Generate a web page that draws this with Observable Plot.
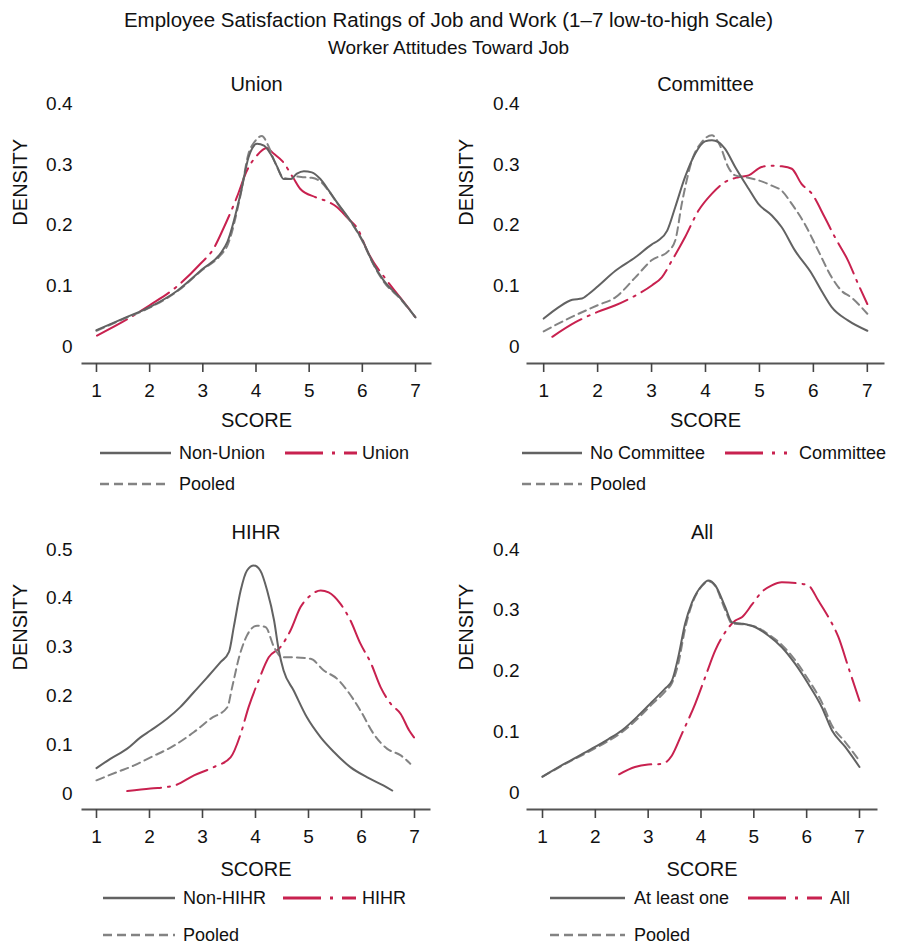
<!DOCTYPE html>
<html>
<head>
<meta charset="utf-8">
<script src="https://cdn.jsdelivr.net/npm/d3@7"></script>
<script src="https://cdn.jsdelivr.net/npm/@observablehq/plot@0.6"></script>
<style>
  body { margin: 0; background: #fff; }
  #root { position: relative; width: 897px; height: 946px; font-family: "Liberation Sans", Arial, Helvetica, sans-serif; color: #111; }
  .abs { position: absolute; white-space: nowrap; }
  .ttl { left: 0; width: 897px; text-align: center; line-height: 22px; }
  .lg { font-size: 18px; line-height: 20px; }
</style>
</head>
<body>
<div id="root"></div>
<script>
// ---------- text ----------
const mainTitle = "Employee Satisfaction Ratings of Job and Work (1\u20137 low-to-high Scale)";
const subTitle = "Worker Attitudes Toward Job";
const panelTitles = ["Union", "Committee", "HIHR", "All"];
const xLabel = "SCORE";
const yLabel = "DENSITY";
const xTicks = [1, 2, 3, 4, 5, 6, 7];
const yTicks04 = [0, 0.1, 0.2, 0.3, 0.4];
const yTicks05 = [0, 0.1, 0.2, 0.3, 0.4, 0.5];

// ---------- Panel 1: Union ----------
const nonUnionX = [1.00, 1.50, 2.00, 2.52, 3.00, 3.33, 3.46, 3.71, 3.86, 4.02, 4.15, 4.27, 4.40, 4.52, 4.65, 4.77, 4.90, 5.05, 5.21, 5.37, 5.52, 5.77, 6.00, 6.21, 6.40, 6.71, 7.00];
const nonUnionY = [0.027, 0.046, 0.065, 0.092, 0.128, 0.153, 0.172, 0.252, 0.312, 0.334, 0.331, 0.318, 0.296, 0.276, 0.276, 0.285, 0.289, 0.287, 0.276, 0.257, 0.238, 0.208, 0.175, 0.136, 0.109, 0.080, 0.048];
const unionPooledX = [1.00, 1.50, 2.00, 2.52, 3.00, 3.33, 3.46, 3.71, 3.86, 3.98, 4.11, 4.22, 4.35, 4.52, 4.65, 4.77, 4.90, 5.05, 5.21, 5.37, 5.52, 5.77, 6.00, 6.21, 6.40, 6.71, 7.00];
const unionPooledY = [0.026, 0.045, 0.064, 0.091, 0.127, 0.150, 0.166, 0.250, 0.318, 0.338, 0.347, 0.333, 0.305, 0.278, 0.276, 0.280, 0.279, 0.278, 0.272, 0.256, 0.237, 0.207, 0.174, 0.135, 0.107, 0.079, 0.048];
const unionX = [1.01, 1.60, 2.00, 2.50, 2.95, 3.20, 3.40, 3.64, 3.83, 4.02, 4.20, 4.33, 4.50, 4.70, 4.83, 5.12, 5.37, 5.52, 5.71, 5.93, 6.09, 6.46, 6.71, 7.00];
const unionY = [0.018, 0.046, 0.068, 0.098, 0.136, 0.161, 0.197, 0.246, 0.290, 0.315, 0.327, 0.318, 0.305, 0.278, 0.260, 0.246, 0.238, 0.230, 0.213, 0.191, 0.158, 0.109, 0.081, 0.048];

// ---------- Panel 2: Committee ----------
const noCommitteeX = [1.00, 1.28, 1.53, 1.71, 1.84, 2.00, 2.33, 2.70, 3.00, 3.13, 3.29, 3.44, 3.62, 3.81, 3.99, 4.12, 4.24, 4.36, 4.55, 4.80, 4.98, 5.23, 5.41, 5.66, 5.97, 6.15, 6.34, 6.64, 7.00];
const noCommitteeY = [0.046, 0.065, 0.077, 0.079, 0.087, 0.099, 0.125, 0.147, 0.168, 0.175, 0.191, 0.230, 0.279, 0.318, 0.338, 0.340, 0.337, 0.326, 0.296, 0.260, 0.235, 0.216, 0.197, 0.158, 0.120, 0.092, 0.065, 0.043, 0.026];
const committeePooledX = [1.00, 1.41, 2.00, 2.33, 2.70, 3.00, 3.32, 3.44, 3.56, 3.75, 3.93, 4.12, 4.27, 4.42, 4.55, 4.74, 4.98, 5.23, 5.41, 5.60, 5.84, 6.09, 6.34, 6.52, 6.70, 7.00];
const committeePooledY = [0.025, 0.044, 0.068, 0.081, 0.114, 0.142, 0.158, 0.175, 0.235, 0.307, 0.337, 0.348, 0.331, 0.296, 0.282, 0.279, 0.274, 0.265, 0.257, 0.235, 0.202, 0.158, 0.114, 0.092, 0.081, 0.054];
const committeeX = [1.16, 1.59, 2.00, 2.33, 2.70, 3.01, 3.19, 3.38, 3.62, 3.87, 4.12, 4.36, 4.61, 4.80, 5.04, 5.23, 5.41, 5.60, 5.78, 5.97, 6.21, 6.40, 6.64, 6.83, 7.00];
const committeeY = [0.016, 0.040, 0.057, 0.068, 0.084, 0.101, 0.114, 0.142, 0.180, 0.224, 0.252, 0.271, 0.279, 0.282, 0.296, 0.298, 0.297, 0.293, 0.268, 0.252, 0.213, 0.180, 0.142, 0.103, 0.070];

// ---------- Panel 3: HIHR ----------
const nonHihrX = [1.00, 1.26, 1.58, 1.83, 2.02, 2.33, 2.58, 2.84, 3.09, 3.34, 3.50, 3.59, 3.72, 3.84, 3.97, 4.09, 4.22, 4.35, 4.44, 4.53, 4.72, 4.97, 5.23, 5.48, 5.79, 6.11, 6.42, 6.58];
const nonHihrY = [0.052, 0.071, 0.092, 0.115, 0.129, 0.153, 0.177, 0.208, 0.238, 0.269, 0.290, 0.341, 0.416, 0.457, 0.467, 0.457, 0.416, 0.355, 0.293, 0.252, 0.211, 0.156, 0.115, 0.085, 0.054, 0.033, 0.016, 0.006];
const hihrPooledX = [1.00, 1.39, 1.70, 2.02, 2.46, 2.84, 3.15, 3.47, 3.56, 3.69, 3.84, 4.03, 4.19, 4.35, 4.50, 4.72, 5.04, 5.29, 5.54, 5.73, 5.98, 6.23, 6.48, 6.74, 6.92];
const hihrPooledY = [0.027, 0.044, 0.057, 0.074, 0.098, 0.126, 0.153, 0.177, 0.218, 0.279, 0.324, 0.344, 0.341, 0.300, 0.279, 0.279, 0.276, 0.252, 0.235, 0.211, 0.170, 0.122, 0.092, 0.078, 0.061];
const hihrX = [1.58, 2.02, 2.46, 2.84, 3.21, 3.53, 3.72, 3.87, 4.06, 4.25, 4.47, 4.66, 4.85, 5.04, 5.23, 5.38, 5.60, 5.79, 5.98, 6.17, 6.36, 6.55, 6.74, 6.90, 6.99];
const hihrY = [0.005, 0.010, 0.016, 0.037, 0.054, 0.074, 0.122, 0.177, 0.232, 0.279, 0.300, 0.334, 0.382, 0.406, 0.416, 0.412, 0.389, 0.355, 0.307, 0.269, 0.218, 0.184, 0.163, 0.129, 0.115];

// ---------- Panel 4: All ----------
const atLeastOneX = [1.00, 1.41, 1.87, 2.25, 2.50, 2.82, 3.07, 3.32, 3.45, 3.57, 3.70, 3.83, 4.02, 4.14, 4.27, 4.46, 4.59, 4.77, 5.03, 5.28, 5.53, 5.78, 6.03, 6.29, 6.48, 6.73, 7.00];
const atLeastOneY = [0.026, 0.047, 0.069, 0.088, 0.102, 0.127, 0.149, 0.171, 0.184, 0.223, 0.278, 0.313, 0.341, 0.349, 0.341, 0.305, 0.280, 0.278, 0.272, 0.258, 0.239, 0.212, 0.179, 0.140, 0.102, 0.075, 0.042];
const allPooledX = [1.00, 1.41, 1.87, 2.25, 2.50, 2.82, 3.07, 3.32, 3.45, 3.57, 3.70, 3.83, 4.02, 4.14, 4.27, 4.46, 4.59, 4.77, 5.03, 5.28, 5.53, 5.78, 6.03, 6.29, 6.48, 6.73, 7.00];
const allPooledY = [0.026, 0.046, 0.067, 0.085, 0.099, 0.123, 0.145, 0.166, 0.180, 0.212, 0.270, 0.310, 0.340, 0.348, 0.340, 0.300, 0.278, 0.277, 0.273, 0.260, 0.243, 0.218, 0.186, 0.148, 0.110, 0.083, 0.052];
const allX = [2.45, 2.75, 3.00, 3.26, 3.45, 3.64, 3.89, 4.08, 4.27, 4.46, 4.65, 4.78, 4.97, 5.15, 5.34, 5.53, 5.85, 6.03, 6.22, 6.41, 6.60, 6.79, 7.00];
const allY = [0.030, 0.042, 0.046, 0.047, 0.061, 0.097, 0.146, 0.190, 0.234, 0.264, 0.283, 0.289, 0.310, 0.330, 0.341, 0.346, 0.344, 0.341, 0.316, 0.289, 0.256, 0.206, 0.151];

// ---------- legend labels ----------
const legendLabels = [
  ["Non-Union", "Union", "Pooled"],
  ["No Committee", "Committee", "Pooled"],
  ["Non-HIHR", "HIHR", "Pooled"],
  ["At least one", "All", "Pooled"]
];

// ---------- styles ----------
const FONT = '"Liberation Sans", Arial, Helvetica, sans-serif';
const STY = {
  solid: {stroke: "#626262", strokeWidth: 2, strokeDasharray: null},
  pooled: {stroke: "#838383", strokeWidth: 2, strokeDasharray: "8,5"},
  red: {stroke: "#c8214f", strokeWidth: 2, strokeDasharray: "34,7,2,7"}
};

const toRows = (xs, ys) => xs.map((x, i) => ({x, y: ys[i]}));

const root = document.getElementById("root");

function addDiv(cls, text, css) {
  const d = document.createElement("div");
  d.className = "abs " + cls;
  d.textContent = text;
  Object.assign(d.style, css);
  root.appendChild(d);
  return d;
}

addDiv("ttl", mainTitle, {top: "9px", fontSize: "20.5px"});
addDiv("ttl", subTitle, {top: "37px", fontSize: "19px"});

function panel(cfg) {
  const lines = [
    ["red", cfg.red],
    ["pooled", cfg.pooled],
    ["solid", cfg.solid]
  ].map(([k, rows]) => Plot.line(rows, {
    x: "x", y: "y", curve: "monotone-x",
    stroke: STY[k].stroke, strokeWidth: STY[k].strokeWidth,
    strokeDasharray: STY[k].strokeDasharray
  }));
  const svg = Plot.plot({
    width: cfg.w, height: cfg.h,
    marginLeft: cfg.ml, marginRight: cfg.mr, marginTop: cfg.mt, marginBottom: cfg.mb,
    x: {domain: cfg.xDomain},
    y: {domain: cfg.yDomain},
    style: {fontFamily: FONT, color: "#111", background: "transparent", overflow: "visible"},
    marks: [
      Plot.frame({anchor: "bottom", stroke: "#555", strokeWidth: 2}),
      Plot.axisX({ticks: xTicks, tickSize: 9, tickPadding: 11, fontSize: 19, tickFormat: d3.format("d"), label: null, stroke: "#444", strokeWidth: 1.6}),
      Plot.axisY({ticks: cfg.yTicks, tickSize: 0, tickPadding: cfg.yPad, fontSize: 19, tickFormat: d3.format("~g"), label: null}),
      Plot.text([cfg.title], {text: d => d, frameAnchor: "top", dy: cfg.titleDy, fontSize: 20, lineAnchor: "middle"}),
      Plot.text([xLabel], {text: d => d, frameAnchor: "bottom", dy: cfg.scoreDy, fontSize: 20, lineAnchor: "middle"}),
      Plot.text([yLabel], {text: d => d, frameAnchor: "left", rotate: -90, lineAnchor: "top", dx: cfg.densDx, dy: cfg.densDy, fontSize: 20}),
      ...lines
    ]
  });
  svg.style.position = "absolute";
  svg.style.left = cfg.left + "px";
  svg.style.top = cfg.top + "px";
  root.appendChild(svg);

  // legend
  const [l1, l2, l3] = cfg.legend;
  const L = cfg.leg;
  swatch(L.s1, L.row1, L.sw1, "solid"); addDiv("lg", l1, {left: L.t1 + "px", top: (L.row1 - 10) + "px"});
  swatch(L.s2, L.row1, L.sw2, "red"); addDiv("lg", l2, {left: L.t2 + "px", top: (L.row1 - 10) + "px"});
  swatch(L.s1, L.row2, L.sw3, "pooled"); addDiv("lg", l3, {left: L.t1 + "px", top: (L.row2 - 10) + "px"});
}

function swatch(x, cy, w, kind) {
  const ns = "http://www.w3.org/2000/svg";
  const s = document.createElementNS(ns, "svg");
  s.setAttribute("width", w); s.setAttribute("height", 8);
  s.style.position = "absolute"; s.style.left = x + "px"; s.style.top = (cy - 4) + "px";
  const ln = document.createElementNS(ns, "line");
  ln.setAttribute("x1", 0); ln.setAttribute("x2", w); ln.setAttribute("y1", 4); ln.setAttribute("y2", 4);
  ln.setAttribute("stroke", STY[kind].stroke);
  ln.setAttribute("stroke-width", kind === "red" ? 3 : 2.5);
  if (kind === "red") ln.setAttribute("stroke-dasharray", "38,9,3,9");
  if (kind === "pooled") ln.setAttribute("stroke-dasharray", "9,5");
  s.appendChild(ln);
  root.appendChild(s);
}

panel({
  left: 0, top: 60, w: 448, h: 380, ml: 82, mr: 18, mt: 43.3, mb: 77,
  xDomain: [0.737, 7.282], yDomain: [-0.028, 0.4], yTicks: yTicks04, yPad: 10,
  title: panelTitles[0], titleDy: -19, scoreDy: 57, densDx: -70, densDy: -8,
  solid: toRows(nonUnionX, nonUnionY), pooled: toRows(unionPooledX, unionPooledY), red: toRows(unionX, unionY),
  legend: legendLabels[0],
  leg: {row1: 453, row2: 484, s1: 100, sw1: 71, t1: 179, s2: 285, sw2: 72, t2: 362, sw3: 65}
});
panel({
  left: 448, top: 60, w: 449, h: 380, ml: 79, mr: 14, mt: 43.3, mb: 77,
  xDomain: [0.70, 7.30], yDomain: [-0.028, 0.4], yTicks: yTicks04, yPad: 8,
  title: panelTitles[1], titleDy: -19, scoreDy: 57, densDx: -69, densDy: -8,
  solid: toRows(noCommitteeX, noCommitteeY), pooled: toRows(committeePooledX, committeePooledY), red: toRows(committeeX, committeeY),
  legend: legendLabels[1],
  leg: {row1: 453, row2: 484, s1: 522, sw1: 60, t1: 590, s2: 725, sw2: 62, t2: 799, sw3: 60}
});
panel({
  left: 0, top: 470, w: 448, h: 420, ml: 82, mr: 19, mt: 79, mb: 81,
  xDomain: [0.736, 7.283], yDomain: [-0.0328, 0.5], yTicks: yTicks05, yPad: 10,
  title: panelTitles[2], titleDy: -17, scoreDy: 60, densDx: -70, densDy: -9,
  solid: toRows(nonHihrX, nonHihrY), pooled: toRows(hihrPooledX, hihrPooledY), red: toRows(hihrX, hihrY),
  legend: legendLabels[2],
  leg: {row1: 898, row2: 935, s1: 103, sw1: 72, t1: 183, s2: 283, sw2: 73, t2: 362, sw3: 72}
});
panel({
  left: 448, top: 470, w: 449, h: 420, ml: 79, mr: 21, mt: 79, mb: 81,
  xDomain: [0.716, 7.322], yDomain: [-0.028, 0.4], yTicks: yTicks04, yPad: 8,
  title: panelTitles[3], titleDy: -17, scoreDy: 60, densDx: -69, densDy: -9,
  solid: toRows(atLeastOneX, atLeastOneY), pooled: toRows(allPooledX, allPooledY), red: toRows(allX, allY),
  legend: legendLabels[3],
  leg: {row1: 898, row2: 935, s1: 550, sw1: 75, t1: 634, s2: 748, sw2: 74, t2: 830, sw3: 75}
});
</script>
</body>
</html>
